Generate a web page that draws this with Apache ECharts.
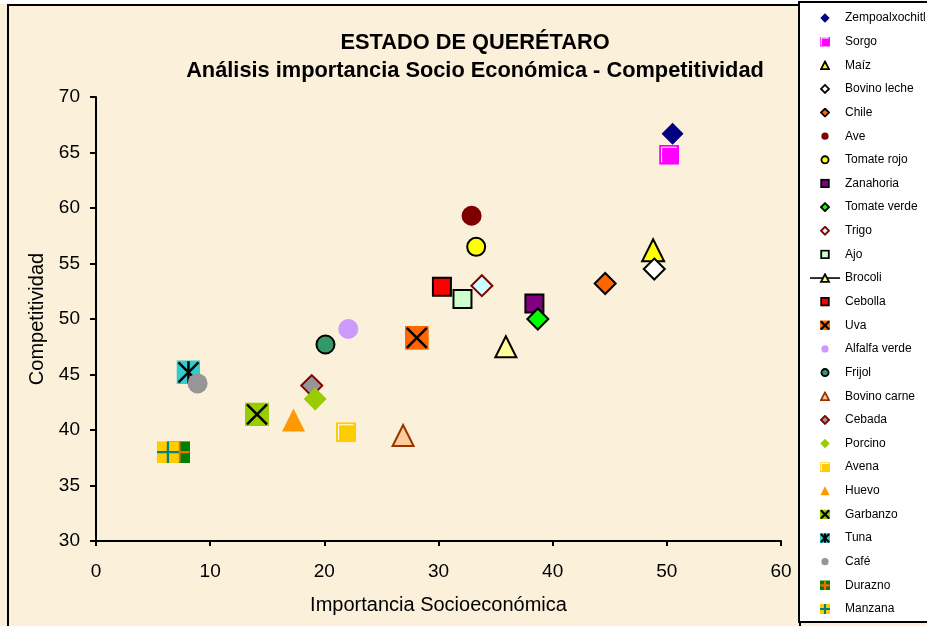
<!DOCTYPE html>
<html>
<head>
<meta charset="utf-8">
<script src="https://cdn.jsdelivr.net/npm/echarts@6/dist/echarts.min.js"></script>
<style>
html, body { margin: 0; padding: 0; background: #fff; }
#chart { width: 927px; height: 626px; }
</style>
</head>
<body>
<div id="chart"></div>
<script>
// productos (orden de la leyenda)
var productos = ['Zempoalxochitl', 'Sorgo', 'Maíz', 'Bovino leche', 'Chile', 'Ave', 'Tomate rojo',
  'Zanahoria', 'Tomate verde', 'Trigo', 'Ajo', 'Brocoli', 'Cebolla', 'Uva', 'Alfalfa verde', 'Frijol',
  'Bovino carne', 'Cebada', 'Porcino', 'Avena', 'Huevo', 'Garbanzo', 'Tuna', 'Café', 'Durazno', 'Manzana'];

// importancia socioeconómica (eje x)
var importancia = [50.5, 50.2, 48.8, 48.9, 44.6, 32.9, 33.3,
  38.4, 38.7, 33.8, 32.1, 35.9, 30.3, 28.1, 22.1, 20.1,
  26.9, 18.9, 19.2, 21.9, 17.3, 14.1, 8.1, 8.9, 7.3, 6.3];

// competitividad (eje y)
var competitividad = [66.7, 64.8, 56.2, 54.5, 53.2, 59.3, 56.5,
  51.4, 50.0, 53.0, 51.8, 47.5, 52.9, 48.3, 49.1, 47.7,
  39.5, 44.0, 42.8, 39.8, 40.9, 41.4, 45.2, 44.2, 38.0, 38.0];

var xTicks = { min: 0, max: 60, step: 10 };
var yTicks = { min: 30, max: 70, step: 5 };

function svgUri(w, h, body) {
  var svg = '<svg xmlns="http://www.w3.org/2000/svg" width="' + w + '" height="' + h +
    '" viewBox="0 0 ' + w + ' ' + h + '">' + body + '</svg>';
  return 'image://data:image/svg+xml;charset=utf-8,' + encodeURIComponent(svg);
}

// cuadro con dibujo interior
function cuadro(fill, extra, sw) {
  var b = '<rect x="0" y="0" width="24" height="24" fill="' + fill + '"/>';
  if (extra.indexOf('x') >= 0) b += '<path d="M2 2L22 22M22 2L2 22" stroke="#000" stroke-width="' + sw + '"/>';
  if (extra.indexOf('v') >= 0) b += '<path d="M12 1L12 23" stroke="#000" stroke-width="' + sw + '"/>';
  if (extra.indexOf('+o') >= 0) b += '<path d="M12 1L12 23M1 12L23 12" stroke="#FF6600" stroke-width="' + sw + '"/>';
  if (extra.indexOf('+t') >= 0) b += '<path d="M12 0L12 24M0 12L24 12" stroke="#008080" stroke-width="' + sw + '"/>';
  if (extra.indexOf('w') >= 0) b += '<path d="M3 21L3 3L21 3" fill="none" stroke="#fff" stroke-width="' + (sw / 2) + '"/>';
  return svgUri(24, 24, b);
}

// icono pequeño para la leyenda
function iconoLeyenda(e) {
  if (e.img) return cuadro(e.img[0], e.img[1], 5);
  var st = e.border ? ' stroke="' + e.border + '" stroke-width="1.8"' : '';
  var f = ' fill="' + e.fill + '"';
  var shape;
  if (e.symbol === 'diamond') shape = e.border ? '<polygon points="5,1 9,5 5,9 1,5"' + f + st + '/>' : '<polygon points="5,0.3 9.7,5 5,9.7 0.3,5"' + f + '/>';
  else if (e.symbol === 'triangle') shape = e.border ? '<polygon points="5,1.2 9,8.9 1,8.9"' + f + st + '/>' : '<polygon points="5,0.5 9.6,9.5 0.4,9.5"' + f + '/>';
  else if (e.symbol === 'rect') shape = '<rect x="1.2" y="1.2" width="7.6" height="7.6"' + f + st + '/>';
  else shape = e.border ? '<circle cx="5" cy="5" r="3.6"' + f + st + '/>' : '<circle cx="5" cy="5" r="3.6"' + f + '/>';
  if (e.line) {
    return svgUri(30, 10, '<path d="M0 5L30 5" stroke="#000" stroke-width="1.6"/>' +
      '<polygon points="15,1.2 19,8.9 11,8.9"' + f + st + '/>');
  }
  return svgUri(10, 10, shape);
}

var estilos = [
  { symbol: 'diamond', size: 22, fill: '#000080' },
  { img: ['#FF00FF', 'w'], size: 20 },
  { symbol: 'triangle', size: 22, fill: '#FFFF00', border: '#000' },
  { symbol: 'diamond', size: 21, fill: '#FFFFFF', border: '#000' },
  { symbol: 'diamond', size: 21, fill: '#FF6600', border: '#000' },
  { symbol: 'circle', size: 20, fill: '#800000' },
  { symbol: 'circle', size: 18, fill: '#FFFF00', border: '#000' },
  { symbol: 'rect', size: 18, fill: '#800080', border: '#000' },
  { symbol: 'diamond', size: 21, fill: '#00FF00', border: '#000' },
  { symbol: 'diamond', size: 21, fill: '#CCFFFF', border: '#800000' },
  { symbol: 'rect', size: 18, fill: '#CCFFCC', border: '#000' },
  { symbol: 'triangle', size: 21, fill: '#FFFF99', border: '#000', line: true },
  { symbol: 'rect', size: 18, fill: '#FF0000', border: '#000' },
  { img: ['#FF6600', 'x'], size: 24 },
  { symbol: 'circle', size: 20, fill: '#CC99FF' },
  { symbol: 'circle', size: 18, fill: '#339966', border: '#000' },
  { symbol: 'triangle', size: 21, fill: '#FFCC99', border: '#993300' },
  { symbol: 'diamond', size: 21, fill: '#969696', border: '#800000' },
  { symbol: 'diamond', size: 23, fill: '#99CC00' },
  { img: ['#FFCC00', 'w'], size: 20 },
  { symbol: 'triangle', size: 23, fill: '#FF9900' },
  { img: ['#99CC00', 'x'], size: 24 },
  { img: ['#33CCCC', 'xv'], size: 24 },
  { symbol: 'circle', size: 20, fill: '#969696' },
  { img: ['#008000', '+o'], size: 22 },
  { img: ['#FFCC00', '+t'], size: 22 }
];

var fuente = '"Liberation Sans", Arial, sans-serif';

var series = productos.map(function (nombre, i) {
  var e = estilos[i];
  var s = {
    name: nombre,
    type: e.line ? 'line' : 'scatter',
    data: [[importancia[i], competitividad[i]]],
    symbol: e.img ? cuadro(e.img[0], e.img[1], 2.5) : e.symbol,
    symbolSize: e.size,
    itemStyle: {
      color: e.img ? e.img[0] : e.fill,
      borderColor: e.border || 'transparent',
      borderWidth: e.border ? 2 : 0,
      opacity: 1
    },
    emphasis: { disabled: true }
  };
  if (e.line) {
    s.showSymbol = true;
    s.lineStyle = { color: '#000', width: 2 };
  }
  return s;
});

var legendData = productos.map(function (nombre, i) {
  return { name: nombre, icon: iconoLeyenda(estilos[i]) };
});

var chart = echarts.init(document.getElementById('chart'));
chart.setOption({
  animation: false,
  backgroundColor: '#FBF0DA',
  grid: { left: 96, top: 97, right: 146, bottom: 85 },
  graphic: [
    { type: 'rect', shape: { x: 0, y: 0, width: 927, height: 4 }, style: { fill: '#fff' }, silent: true },
    { type: 'rect', shape: { x: 8, y: 5, width: 792, height: 700 }, style: { fill: 'none', stroke: '#000', lineWidth: 2 }, silent: true },
    {
      type: 'text', x: 475, y: 29, silent: true,
      style: {
        text: 'ESTADO DE QUERÉTARO\nAnálisis importancia Socio Económica - Competitividad',
        fill: '#000', font: 'bold 21.8px ' + fuente, lineHeight: 28,
        textAlign: 'center', textVerticalAlign: 'top'
      }
    }
  ],
  legend: {
    data: legendData,
    orient: 'vertical',
    left: 799,
    top: 2,
    padding: [9, 30, 6, 11],
    itemWidth: 30,
    itemHeight: 10,
    itemGap: 9.64,
    selectedMode: false,
    backgroundColor: '#fff',
    borderColor: '#000',
    borderWidth: 2,
    borderRadius: 0,
    textStyle: { fontSize: 12, lineHeight: 14, color: '#000', fontFamily: fuente }
  },
  xAxis: {
    type: 'value',
    min: xTicks.min, max: xTicks.max, interval: xTicks.step,
    name: 'Importancia Socioeconómica',
    nameLocation: 'middle',
    nameGap: 54,
    nameTextStyle: { fontSize: 20, color: '#000', fontFamily: fuente },
    axisLine: { show: true, onZero: false, lineStyle: { color: '#000', width: 2 } },
    axisTick: { show: true, length: 5, lineStyle: { color: '#000', width: 2 } },
    axisLabel: { fontSize: 19, color: '#000', fontFamily: fuente, margin: 21 },
    splitLine: { show: false }
  },
  yAxis: {
    type: 'value',
    min: yTicks.min, max: yTicks.max, interval: yTicks.step,
    name: 'Competitividad',
    nameLocation: 'middle',
    nameGap: 44,
    nameTextStyle: { fontSize: 20, color: '#000', fontFamily: fuente },
    axisLine: { show: true, onZero: false, lineStyle: { color: '#000', width: 2 } },
    axisTick: { show: true, length: 6, lineStyle: { color: '#000', width: 2 } },
    axisLabel: { fontSize: 19, color: '#000', fontFamily: fuente, margin: 16 },
    splitLine: { show: false }
  },
  series: series
});
</script>
</body>
</html>
